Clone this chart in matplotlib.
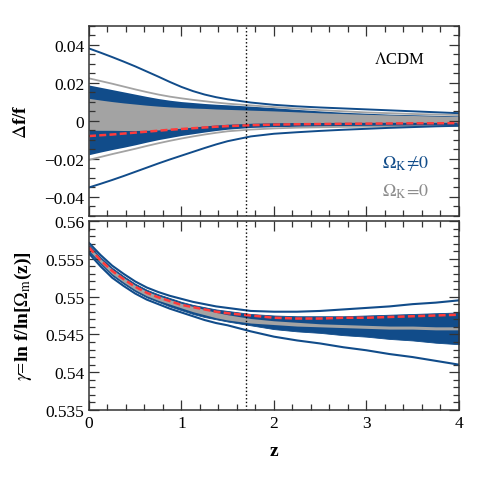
import matplotlib
matplotlib.use("Agg")
import matplotlib.pyplot as plt
from matplotlib.ticker import MultipleLocator, FuncFormatter

plt.rcParams['font.family'] = ['Liberation Serif', 'DejaVu Serif']
plt.rcParams['mathtext.fontset'] = 'stix'

z = [0, 0.125, 0.25, 0.375, 0.5, 0.625, 0.75, 0.875, 1, 1.125, 1.25, 1.375, 1.5,
     1.75, 2, 2.25, 2.5, 2.75, 3, 3.25, 3.5, 3.75, 4]

# top panel: delta f / f
df_blue_out_hi = [0.0380, 0.0358, 0.0335, 0.0311, 0.0286, 0.0259, 0.0232, 0.0204, 0.0178, 0.0156, 0.0138, 0.0124, 0.0113,
                  0.0096, 0.0084, 0.0076, 0.0070, 0.0065, 0.0060, 0.0055, 0.0050, 0.0045, 0.0040]
df_blue_out_lo = [-0.0350, -0.0331, -0.0311, -0.0290, -0.0268, -0.0246, -0.0224, -0.0203, -0.0183, -0.0163, -0.0143, -0.0124, -0.0107,
                  -0.0082, -0.0068, -0.0060, -0.0053, -0.0047, -0.0042, -0.0037, -0.0033, -0.0029, -0.0026]
df_blue_hi = [0.0188, 0.0176, 0.0164, 0.0152, 0.0140, 0.0128, 0.0117, 0.0108, 0.0101, 0.0096, 0.0091, 0.0087, 0.0084,
              0.0077, 0.0069, 0.0060, 0.0052, 0.0045, 0.0040, 0.0035, 0.0032, 0.0029, 0.0026]
df_blue_lo = [-0.0178, -0.0164, -0.0151, -0.0139, -0.0126, -0.0112, -0.0099, -0.0088, -0.0077, -0.0068, -0.0059, -0.0051, -0.0044,
              -0.0035, -0.0031, -0.0029, -0.0028, -0.0027, -0.0026, -0.0025, -0.0025, -0.0024, -0.0024]
df_gray_hi = [0.0118, 0.0109, 0.0101, 0.0094, 0.0088, 0.0082, 0.0077, 0.0073, 0.0070, 0.0067, 0.0065, 0.0062, 0.0060,
              0.0056, 0.0052, 0.0047, 0.0042, 0.0038, 0.0034, 0.0031, 0.0028, 0.0025, 0.0023]
df_gray_lo = [-0.0049, -0.0050, -0.0050, -0.0051, -0.0051, -0.0050, -0.0048, -0.0044, -0.0039, -0.0033, -0.0027, -0.0022, -0.0018,
              -0.0013, -0.0010, -0.0009, -0.0009, -0.0008, -0.0008, -0.0008, -0.0008, -0.0008, -0.0008]
df_gray_out_hi = [0.0223, 0.0209, 0.0195, 0.0180, 0.0165, 0.0151, 0.0138, 0.0127, 0.0118, 0.0110, 0.0103, 0.0096, 0.0090,
                  0.0081, 0.0072, 0.0064, 0.0056, 0.0050, 0.0044, 0.0040, 0.0036, 0.0033, 0.0030]
df_gray_out_lo = [-0.0205, -0.0190, -0.0175, -0.0161, -0.0147, -0.0132, -0.0118, -0.0105, -0.0093, -0.0082, -0.0072, -0.0063, -0.0055,
                  -0.0046, -0.0040, -0.0036, -0.0034, -0.0032, -0.0031, -0.0030, -0.0029, -0.0028, -0.0028]
df_red = [-0.0080, -0.0076, -0.0072, -0.0067, -0.0062, -0.0057, -0.0052, -0.0047, -0.0043, -0.0039, -0.0035, -0.0031, -0.0028,
          -0.0023, -0.0020, -0.0018, -0.0017, -0.0016, -0.0015, -0.0014, -0.0013, -0.0013, -0.0012]

# bottom panel: growth index gamma
g_blue_out_hi = [0.5571, 0.5555, 0.5541, 0.5530, 0.5520, 0.5512, 0.5506, 0.5501, 0.5497, 0.5493, 0.5490, 0.5487, 0.5485,
                 0.5481, 0.5480, 0.5480, 0.5481, 0.5483, 0.5485, 0.5487, 0.5490, 0.5492, 0.5495]
g_blue_out_lo = [0.5557, 0.5540, 0.5525, 0.5514, 0.5504, 0.5496, 0.5490, 0.5484, 0.5479, 0.5474, 0.5469, 0.5465, 0.5462,
                 0.5454, 0.5447, 0.5442, 0.5438, 0.5433, 0.5429, 0.5424, 0.5420, 0.5415, 0.5410]
g_blue_hi = [0.5568, 0.5552, 0.5538, 0.5527, 0.5517, 0.5509, 0.5503, 0.5498, 0.5493, 0.5489, 0.5486, 0.5483, 0.5481,
             0.5477, 0.5475, 0.5474, 0.5474, 0.5474, 0.5475, 0.5476, 0.5477, 0.5478, 0.5479]
g_blue_lo = [0.5559, 0.5543, 0.5528, 0.5517, 0.5507, 0.5499, 0.5493, 0.5487, 0.5482, 0.5477, 0.5473, 0.5470, 0.5467,
             0.5462, 0.5457, 0.5454, 0.5452, 0.5449, 0.5447, 0.5444, 0.5442, 0.5439, 0.5437]
g_gray_hi = [0.5566, 0.5550, 0.5536, 0.5525, 0.5515, 0.5507, 0.5501, 0.5496, 0.5491, 0.5487, 0.5483, 0.5479, 0.5476,
             0.5471, 0.5468, 0.5466, 0.5464, 0.5463, 0.5462, 0.5461, 0.5461, 0.5460, 0.5460]
g_gray_lo = [0.5561, 0.5545, 0.5530, 0.5519, 0.5509, 0.5501, 0.5495, 0.5490, 0.5485, 0.5480, 0.5476, 0.5472, 0.5469,
             0.5465, 0.5463, 0.5461, 0.5460, 0.5459, 0.5458, 0.5457, 0.5457, 0.5456, 0.5456]
g_red = [0.5565, 0.5548, 0.5534, 0.5523, 0.5513, 0.5505, 0.5499, 0.5494, 0.5489, 0.5486, 0.5483, 0.5480, 0.5478,
         0.5475, 0.5472, 0.5471, 0.5471, 0.5472, 0.5472, 0.5473, 0.5474, 0.5475, 0.5476]

z_mark = 1.7

blue = "#114c8a"
gray = "#a3a3a3"
red = "#ff3b3b"
dash = (0, (2.8, 1.3))

fig = plt.figure(figsize=(4.85, 4.85), dpi=100)
ax1 = fig.add_axes([0.1835, 0.5526, 0.7625, 0.3925])
ax2 = fig.add_axes([0.1835, 0.1526, 0.7625, 0.3897])

# top
ax1.fill_between(z, df_blue_lo, df_blue_hi, color=blue, lw=0)
ax1.fill_between(z, df_gray_lo, df_gray_hi, color=gray, lw=0)
ax1.plot(z, df_gray_out_hi, color=gray, lw=1.3)
ax1.plot(z, df_gray_out_lo, color=gray, lw=1.3)
ax1.plot(z, df_blue_out_hi, color=blue, lw=1.4)
ax1.plot(z, df_blue_out_lo, color=blue, lw=1.4)
ax1.plot(z, df_red, color=red, lw=1.8, ls=dash)
ax1.axvline(z_mark, color="k", ls=":", lw=1)

# bottom
ax2.fill_between(z, g_blue_lo, g_blue_hi, color=blue, lw=0.6, edgecolor=blue)
ax2.fill_between(z, g_gray_lo, g_gray_hi, color=gray, lw=0)
ax2.plot(z, g_blue_out_hi, color=blue, lw=1.5)
ax2.plot(z, g_blue_out_lo, color=blue, lw=1.5)
ax2.plot(z, g_red, color=red, lw=1.8, ls=dash)
ax2.axvline(z_mark, color="k", ls=":", lw=1)

ax1.set_xlim(0, 4)
ax1.set_ylim(-0.05, 0.05)
ax2.set_xlim(0, 4)
ax2.set_ylim(0.535, 0.56)

def fmt(v, pos):
    if abs(v) < 1e-9:
        return "0"
    return ("%g" % v).replace("-", "\u2212")

for ax in (ax1, ax2):
    ax.xaxis.set_major_locator(MultipleLocator(1))
    ax.xaxis.set_minor_locator(MultipleLocator(0.2))
    ax.tick_params(which="both", direction="in", top=True, right=True,
                   labelsize=12.5, width=0.9, color="#333333")
    ax.tick_params(which="major", length=7)
    ax.tick_params(which="minor", length=4)
    for s in ax.spines.values():
        s.set_linewidth(1.1)
        s.set_color("#333333")
    ax.yaxis.set_major_formatter(FuncFormatter(fmt))

ax1.yaxis.set_major_locator(MultipleLocator(0.02))
ax1.yaxis.set_minor_locator(MultipleLocator(0.005))
ax1.tick_params(labelbottom=False)
ax2.yaxis.set_major_locator(MultipleLocator(0.005))
ax2.yaxis.set_minor_locator(MultipleLocator(0.001))

ax1.text(3.36, 0.0325, r"$\Lambda$CDM", fontsize=12, ha="center", va="center")
ax1.text(3.43, -0.0218, r"$\Omega_{\rm K}\!\neq\!0$", fontsize=13, color=blue, ha="center", va="center")
ax1.text(3.43, -0.0367, r"$\Omega_{\rm K}\!=\!0$", fontsize=13, color="#8c8c8c", ha="center", va="center")

ax1.set_ylabel(r"$\Delta$f/f", fontsize=14, fontweight="bold", labelpad=10)
ax2.set_ylabel(r"$\gamma$=ln f/ln[$\Omega_{\rm m}$(z)]", fontsize=14, fontweight="bold", labelpad=8)
ax2.set_xlabel("z", fontsize=14, fontweight="bold", labelpad=8)

fig.savefig("out.png", dpi=100)
